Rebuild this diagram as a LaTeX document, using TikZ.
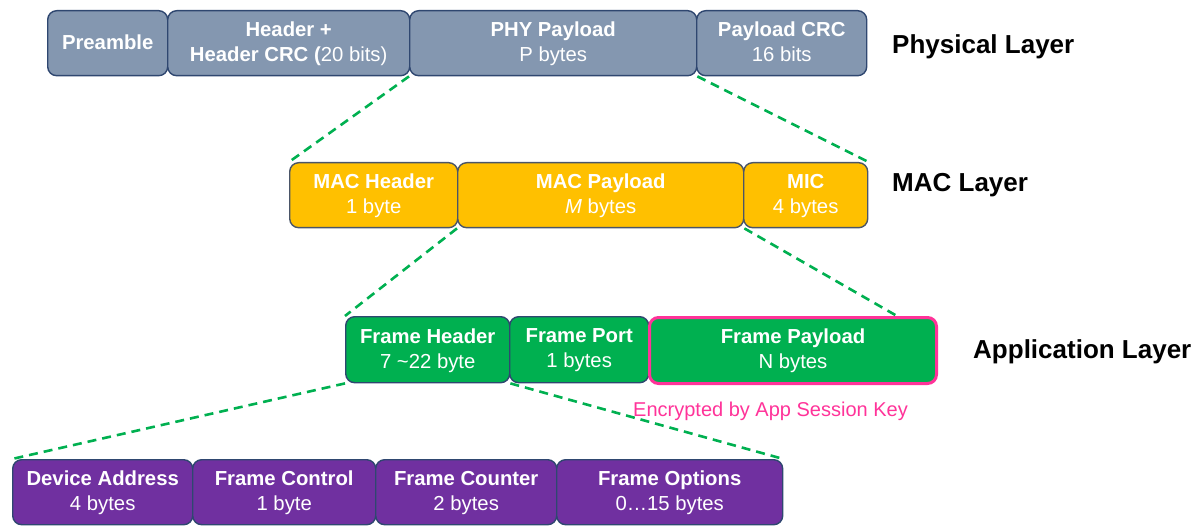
\documentclass[tikz,border=0pt]{standalone}
\usepackage{fontspec}
\setmainfont{Liberation Sans}
\definecolor{phyfill}{HTML}{8497B0}
\definecolor{navy}{HTML}{2F4770}
\definecolor{macfill}{HTML}{FFC000}
\definecolor{macdraw}{HTML}{4A5568}
\definecolor{appfill}{HTML}{00B050}
\definecolor{purp}{HTML}{7030A0}
\definecolor{pinkc}{HTML}{FF3399}
\definecolor{dashg}{HTML}{00B050}
\tikzset{
  fbox/.style={rectangle, rounded corners=9pt, line width=1.4pt, inner sep=0pt,
    anchor=north west, text=white, align=center, text depth=3pt,
    font=\fontsize{20.3}{25}\selectfont},
  phybox/.style={fbox, fill=phyfill, draw=navy, minimum height=65pt},
  macbox/.style={fbox, fill=macfill, draw=macdraw, minimum height=65pt},
  appbox/.style={fbox, fill=appfill, draw=navy, minimum height=66pt},
  bitbox/.style={fbox, fill=purp, draw=navy, minimum height=65pt},
  layerlabel/.style={anchor=west, inner sep=0pt, font=\fontsize{26}{30}\selectfont\bfseries},
  link/.style={draw=dashg, line width=2.6pt, dash pattern=on 9pt off 6pt}
}
\begin{document}
\begin{tikzpicture}[x=1pt,y=-1pt]
\useasboundingbox (0,0) rectangle (1198,526);
% Physical layer
\node[phybox, minimum width=120pt] (pre) at (47,10) {\textbf{Preamble}};
\node[phybox, minimum width=242pt] (hdr) at (167,10) {\textbf{Header +}\\\textbf{Header CRC (}20 bits)};
\node[phybox, minimum width=287pt] (phy) at (409,10) {\textbf{PHY Payload}\\P bytes};
\node[phybox, minimum width=170pt] (crc) at (696,10) {\textbf{Payload CRC}\\16 bits};
\node[layerlabel] (lphy) at (892,47) {Physical Layer};
% MAC layer
\node[macbox, minimum width=168pt] (machdr) at (289,162) {\textbf{MAC Header}\\1 byte};
\node[macbox, minimum width=286pt] (macpay) at (457,162) {\textbf{MAC Payload}\\\textit{M} bytes};
\node[macbox, minimum width=124pt] (mic) at (743,162) {\textbf{MIC}\\4 bytes};
\node[layerlabel] (lmac) at (892,185) {MAC Layer};
% Application layer
\node[appbox, minimum width=164pt] (fhdr) at (345,316) {\textbf{Frame Header}\\7 \textasciitilde22 byte};
\node[appbox, minimum width=139pt] (fport) at (509,316) {\textbf{Frame Port}\\1 bytes};
\node[appbox, draw=pinkc, line width=3pt, minimum width=287pt] (fpay) at (648,316) {\textbf{Frame Payload}\\N bytes};
\node[layerlabel] (lapp) at (973,352) {Application Layer};
\node[anchor=west, inner sep=0pt, text=pinkc, font=\fontsize{20}{22}\selectfont] (enc) at (633,411) {Encrypted by App Session Key};
% Frame header fields
\node[bitbox, minimum width=180pt] (dev) at (12,459) {\textbf{Device Address}\\4 bytes};
\node[bitbox, minimum width=183pt] (fctl) at (192,459) {\textbf{Frame Control}\\1 byte};
\node[bitbox, minimum width=181pt] (fcnt) at (375,459) {\textbf{Frame Counter}\\2 bytes};
\node[bitbox, minimum width=226pt] (fopt) at (556,459) {\textbf{Frame Options}\\0\ldots15 bytes};
% connectors
\coordinate (fpayend) at (897,316);
\draw[link] (phy.south west) -- (machdr.north west);
\draw[link] (phy.south east) -- (mic.north east);
\draw[link] (macpay.south west) -- (fhdr.north west);
\draw[link] (macpay.south east) -- (fpayend);
\draw[link] (fhdr.south west) -- (dev.north west);
\draw[link] (fhdr.south east) -- (fopt.north east);
\end{tikzpicture}
\end{document}
